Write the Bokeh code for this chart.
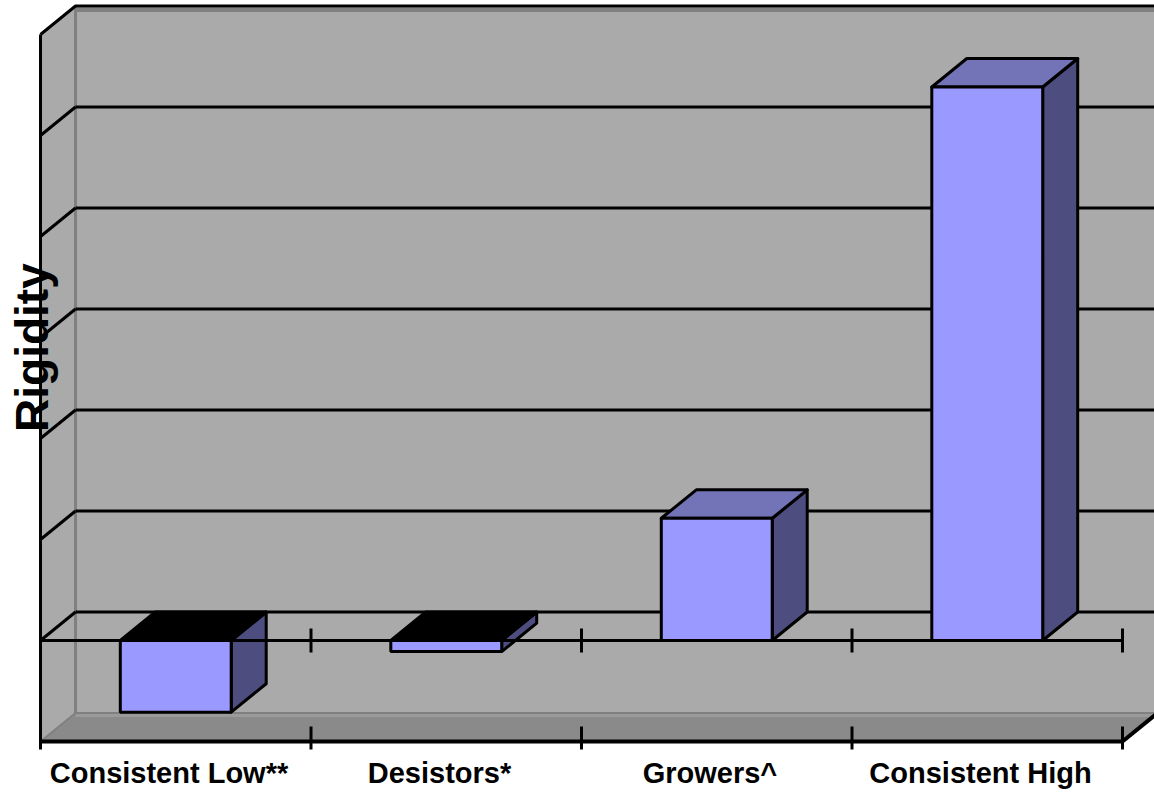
import math
from bokeh.plotting import figure
from bokeh.models import Range1d, ColumnDataSource
from bokeh.core.properties import value
from bokeh.embed import file_html
from bokeh.resources import INLINE

# ---- data -------------------------------------------------------------
categories = ["Consistent Low**", "Desistors*", "Growers^", "Consistent High"]
rigidity = [-0.71, -0.11, 1.21, 5.48]
grid_levels = [0, 1, 2, 3, 4, 5]
axis_floor = -1.0
axis_top = 6.0
y_title = "Rigidity"

# ---- layout / style ---------------------------------------------------
W, H = 1154, 794
X0, X1 = -0.1479, 4.1183          # category slots 0..4
Y0, Y1 = -1.5248, 6.3366          # value range shown
DX, DY = 0.1294, 0.282            # oblique depth offset (data units)
BAR_W = 0.41
PX_X = (X1 - X0) / W              # category units per screen pixel
PX_Y = (Y1 - Y0) / H              # value units per screen pixel

WALL = "#aaaaaa"
FLOOR = "#8a8a8a"
EDGE_GRAY = "#808080"
FRONT = "#9999ff"
TOP = "#7373b8"
SIDE = "#4d4d80"

n = len(categories)
xmax = float(n)

p = figure(width=W, height=H, x_range=Range1d(X0, X1), y_range=Range1d(Y0, Y1),
           output_backend="svg", toolbar_location=None, min_border=0,
           x_axis_type=None, y_axis_type=None, outline_line_color=None,
           background_fill_color="white", border_fill_color="white")
p.grid.grid_line_color = None

# ---- walls and floor --------------------------------------------------
# back wall
p.patch([DX, xmax + DX, xmax + DX, DX],
        [axis_floor + DY, axis_floor + DY, axis_top + DY, axis_top + DY],
        fill_color=WALL, line_color=None)
# side wall
p.patch([0, DX, DX, 0],
        [axis_floor, axis_floor + DY, axis_top + DY, axis_top],
        fill_color=WALL, line_color=None)
# floor
p.patch([0, xmax, xmax + DX, DX],
        [axis_floor, axis_floor, axis_floor + DY, axis_floor + DY],
        fill_color=FLOOR, line_color=None)
p.line([DX, xmax + DX], [axis_floor + DY - 2 * PX_Y] * 2,
       line_color="#9a9a9a", line_width=4)

# inner wall edges
p.line([DX, DX], [axis_floor + DY, axis_top + DY], line_color=EDGE_GRAY, line_width=3)
p.line([DX, xmax + DX], [axis_floor + DY, axis_floor + DY], line_color=EDGE_GRAY, line_width=2)
p.line([DX, xmax + DX], [axis_top + DY - 4 * PX_Y] * 2, line_color=EDGE_GRAY, line_width=4)
p.line([0, DX], [axis_floor, axis_floor + DY], line_color=EDGE_GRAY, line_width=2)

# gridlines on back and side walls
p.multi_line([[DX, xmax + DX] for g in grid_levels],
             [[g + DY, g + DY] for g in grid_levels],
             line_color="black", line_width=3)
p.multi_line([[0, DX] for g in grid_levels],
             [[g, g + DY] for g in grid_levels],
             line_color="black", line_width=3)

# outer wall edges
p.line([0, DX, xmax + DX + 0.2], [axis_top, axis_top + DY, axis_top + DY],
       line_color="black", line_width=3)
p.line([0, 0], [axis_floor - 8 * PX_Y, axis_top], line_color="black", line_width=3)
p.line([0, xmax, xmax + DX], [axis_floor, axis_floor, axis_floor + DY],
       line_color="black", line_width=4)

# ---- bars --------------------------------------------------------------
centers = [i + 0.5 for i in range(n)]
lefts = [c - BAR_W / 2 for c in centers]
rights = [c + BAR_W / 2 for c in centers]
bottoms = [min(0.0, v) for v in rigidity]
tops = [max(0.0, v) for v in rigidity]

side_src = ColumnDataSource(dict(
    xs=[[r, r + DX, r + DX, r] for r in rights],
    ys=[[b, b + DY, t + DY, t] for b, t in zip(bottoms, tops)]))
top_src = ColumnDataSource(dict(
    xs=[[l, r, r + DX, l + DX] for l, r in zip(lefts, rights)],
    ys=[[t, t, t + DY, t + DY] for t in tops],
    color=[TOP if v >= 0 else "black" for v in rigidity]))
p.patches("xs", "ys", source=side_src, fill_color=SIDE,
          line_color="black", line_width=3, line_join="round")
p.patches("xs", "ys", source=top_src, fill_color="color",
          line_color="black", line_width=3, line_join="round")
p.quad(left=lefts, right=rights, bottom=bottoms, top=tops,
       fill_color=FRONT, line_color="black", line_width=3)

# ---- category axis on the zero plane and on the floor -------------------
p.line([0, xmax], [0, 0], line_color="black", line_width=3)
ticks = [float(i) for i in range(1, n + 1)]
p.segment(x0=ticks, y0=[-12 * PX_Y] * n, x1=ticks, y1=[12 * PX_Y] * n,
          line_color="black", line_width=3)
p.segment(x0=ticks, y0=[axis_floor - 8 * PX_Y] * n, x1=ticks,
          y1=[axis_floor + 15 * PX_Y] * n, line_color="black", line_width=3)

# ---- texts -------------------------------------------------------------
p.text(x=[c - 0.025 for c in centers], y=[axis_floor - 32 * PX_Y] * n, text=categories,
       text_font=value("Liberation Sans"), text_font_style="bold",
       text_font_size="29px", text_align="center", text_baseline="middle",
       text_color="black")
p.text(x=[-9 * PX_X], y=[2.9], text=[y_title], angle=math.pi / 2,
       text_font=value("Liberation Sans"), text_font_style="bold",
       text_font_size="46px", text_align="center", text_baseline="middle",
       text_color="black")

open("out.html", "w").write(file_html(p, INLINE))
